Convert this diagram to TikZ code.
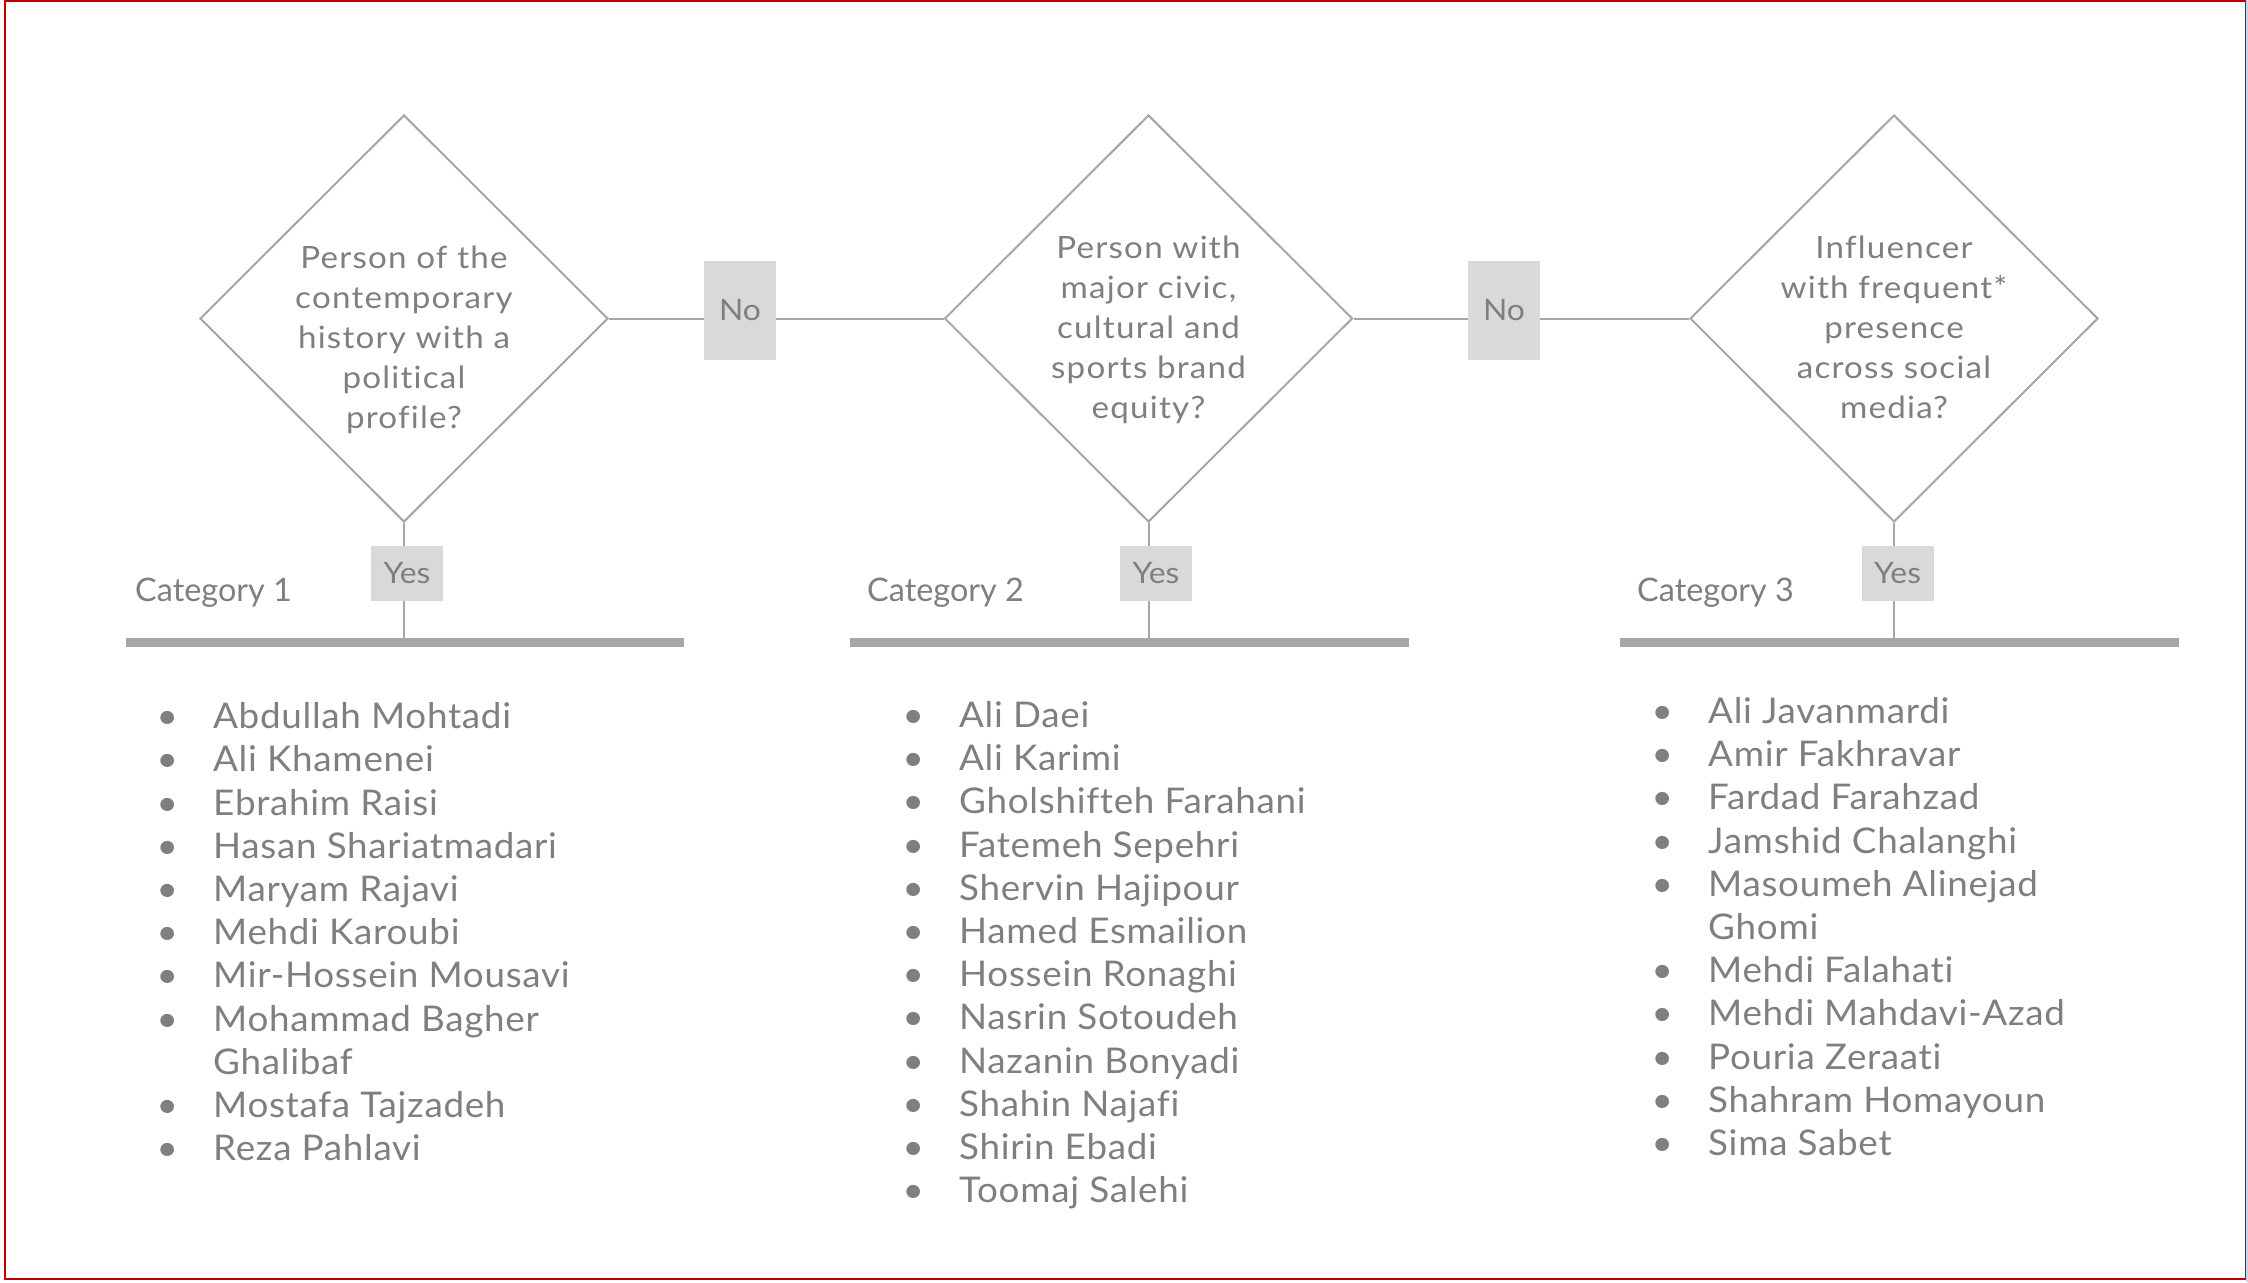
\documentclass[tikz,border=0pt]{standalone}
\usepackage{fontspec}
\setmainfont[Ligatures=NoCommon]{Lato}
\newfontfamily\qfont[FakeStretch=1.08,LetterSpace=4,Ligatures=NoCommon]{Lato}
\newfontfamily\lfont[FakeStretch=1.04,LetterSpace=2,Ligatures=NoCommon]{Lato}
\newfontfamily\afont[FakeStretch=1.08,Ligatures=NoCommon]{Lato}
\usetikzlibrary{shapes.geometric,backgrounds}
\definecolor{txtgrey}{HTML}{7F7F7F}
\definecolor{linegrey}{HTML}{A6A6A6}
\definecolor{boxgrey}{HTML}{D9D9D9}
\definecolor{framered}{HTML}{C00000}
\definecolor{edgeblue}{HTML}{C6D6EC}
\newcommand\bl{\llap{\makebox[92pt]{\textbullet}}}
\begin{document}
\begin{tikzpicture}[x=1pt,y=-1pt,
  question/.style={diamond, draw=linegrey, line width=2pt, minimum width=408pt, minimum height=407pt, inner sep=0pt, shape aspect=1},
  qtext/.style={anchor=base, inner sep=0pt, text=txtgrey, font={\qfont\fontsize{30.7}{40}\selectfont}},
  answer/.style={fill=boxgrey, inner sep=0pt, text=txtgrey, minimum width=72pt, font={\afont\fontsize{29.5}{34}\selectfont}},
  nobox/.style={answer, minimum height=99pt},
  yesbox/.style={answer, minimum height=55pt},
  catlabel/.style={anchor=base west, inner sep=0pt, text=txtgrey, font=\fontsize{32.4}{40}\selectfont},
  bar/.style={fill=linegrey, inner sep=0pt, minimum height=9pt},
  names/.style={anchor=base west, inner sep=0pt, text=txtgrey, font={\lfont\fontsize{35.4}{43.2}\selectfont}},
  conn/.style={draw=linegrey, line width=2pt}]
\useasboundingbox (0,0) rectangle (2248,1282);
\draw[framered, line width=2pt] (5,1) rectangle (2246,1279);
\draw[edgeblue, line width=2pt] (2247,0) -- (2247,1282);

% decisions
\node[question] (d1) at (404,318.5) {};
\node[question] (d2) at (1148.5,318.5) {};
\node[question] (d3) at (1894,318.5) {};
\node[qtext] (q1) at (404,268) {\begin{tabular}[t]{@{}c@{}}Person of the\\contemporary\\history with a\\political\\profile?\end{tabular}};
\node[qtext] (q2) at (1148.5,258) {\begin{tabular}[t]{@{}c@{}}Person with\\major civic,\\cultural and\\sports brand\\equity?\end{tabular}};
\node[qtext] (q3) at (1894,258) {\begin{tabular}[t]{@{}c@{}}Influencer\\with frequent*\\presence\\across social\\media?\end{tabular}};

% bars
\node[bar, minimum width=558pt] (b1) at (405,642.5) {};
\node[bar, minimum width=559pt] (b2) at (1129.5,642.5) {};
\node[bar, minimum width=559pt] (b3) at (1899.5,642.5) {};

% answer boxes
\node[nobox] (n1) at (740,310.5) {No};
\node[nobox] (n2) at (1504,310.5) {No};
\node[yesbox] (y1) at (407,573.5) {Yes};
\node[yesbox] (y2) at (1156,573.5) {Yes};
\node[yesbox] (y3) at (1897.5,573.5) {Yes};

% connectors
\begin{scope}[on background layer]
\draw[conn] (d1.east) -- (d2.west);
\draw[conn] (d2.east) -- (d3.west);
\draw[conn] (d1.south) -- (d1.south |- b1.north);
\draw[conn] (d2.south) -- (d2.south |- b2.north);
\draw[conn] (d3.south) -- (d3.south |- b3.north);
\end{scope}

% category labels
\node[catlabel] (c1) at (135,601) {Category 1};
\node[catlabel] (c2) at (867,601) {Category 2};
\node[catlabel] (c3) at (1637,601) {Category 3};

% lists
\node[names] (l1) at (213,728.6) {\begin{tabular}[t]{@{}l@{}}
\bl Abdullah Mohtadi\\
\bl Ali Khamenei\\
\bl Ebrahim Raisi\\
\bl Hasan Shariatmadari\\
\bl Maryam Rajavi\\
\bl Mehdi Karoubi\\
\bl Mir-Hossein Mousavi\\
\bl Mohammad Bagher\\
Ghalibaf\\
\bl Mostafa Tajzadeh\\
\bl Reza Pahlavi
\end{tabular}};
\node[names] (l2) at (959,727.5) {\begin{tabular}[t]{@{}l@{}}
\bl Ali Daei\\
\bl Ali Karimi\\
\bl Gholshifteh Farahani\\
\bl Fatemeh Sepehri\\
\bl Shervin Hajipour\\
\bl Hamed Esmailion\\
\bl Hossein Ronaghi\\
\bl Nasrin Sotoudeh\\
\bl Nazanin Bonyadi\\
\bl Shahin Najafi\\
\bl Shirin Ebadi\\
\bl Toomaj Salehi
\end{tabular}};
\node[names] (l3) at (1708,723.5) {\begin{tabular}[t]{@{}l@{}}
\bl Ali Javanmardi\\
\bl Amir Fakhravar\\
\bl Fardad Farahzad\\
\bl Jamshid Chalanghi\\
\bl Masoumeh Alinejad\\
Ghomi\\
\bl Mehdi Falahati\\
\bl Mehdi Mahdavi-Azad\\
\bl Pouria Zeraati\\
\bl Shahram Homayoun\\
\bl Sima Sabet
\end{tabular}};
\end{tikzpicture}
\end{document}
